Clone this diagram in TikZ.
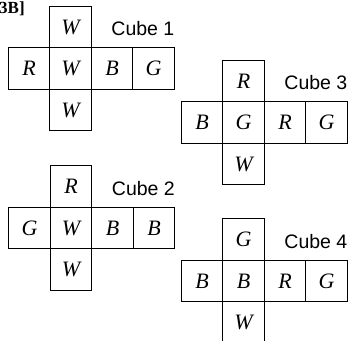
\documentclass[tikz,border=0pt]{standalone}
\usepackage{fontspec}
\setmainfont{Liberation Serif}
\setsansfont{Liberation Sans}
\usetikzlibrary{positioning}

\begin{document}
\begin{tikzpicture}[x=1pt, y=-1pt, face/.style={draw, line width=1pt, minimum size=41.5pt, inner sep=0pt, outer sep=0pt, font=\fontsize{22}{22}\selectfont\itshape}, tag/.style={inner sep=0pt, font=\sffamily\fontsize{19.5}{19.5}\selectfont}]
        % Fix the page size
        \useasboundingbox (0,0) rectangle (350,340);

        % Piece of text at the top edge
        \node[anchor=base west, inner sep=0pt, font=\bfseries\fontsize{17}{17}\selectfont] (cut) at (-1,13) {3B]};

        % Draw the four unfolded cubes
        \foreach \n/\x/\y/\t/\l/\m/\r/\s/\b in {1/70.5/68.5/W/R/W/B/G/W, 2/71/228/R/G/W/B/B/W, 3/243.5/122.5/R/B/G/R/G/W, 4/243.5/281/G/B/B/R/G/W}
        {
          % Middle face, then its neighbours
          \node[face] (c\n-m) at (\x,\y) {\m};
          \node[face, left=0pt of c\n-m] (c\n-l) {\l};
          \node[face, right=0pt of c\n-m] (c\n-r) {\r};
          \node[face, right=0pt of c\n-r] (c\n-s) {\s};
          \node[face, above=0pt of c\n-m] (c\n-t) {\t};
          \node[face, below=0pt of c\n-m] (c\n-b) {\b};
          % Name of the cube
          \node[tag, right=20pt of c\n-t, yshift=-2pt] (name\n) {Cube \n};
        }
      \end{tikzpicture}
\end{document}
